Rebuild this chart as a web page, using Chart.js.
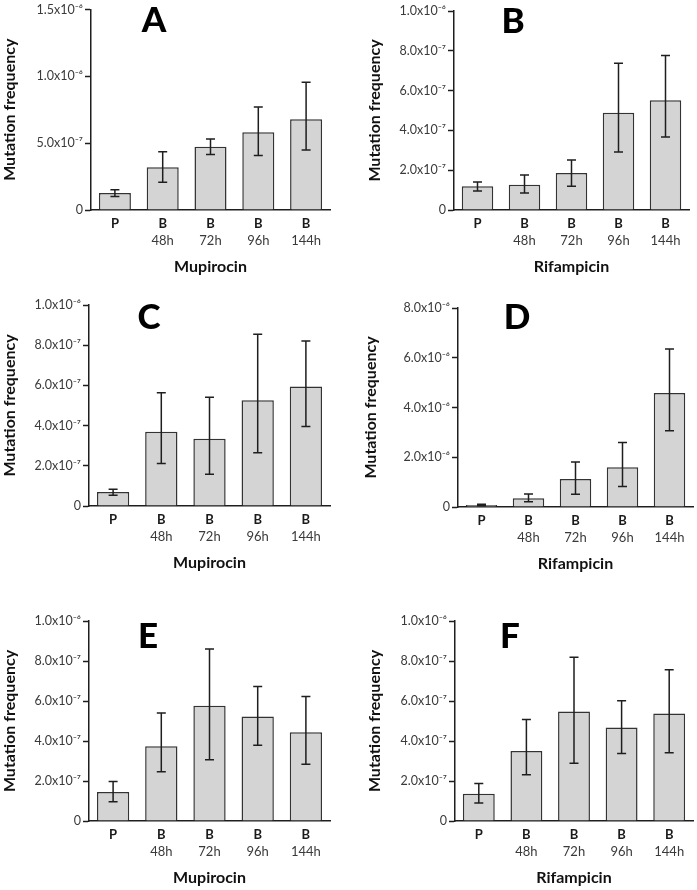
<!DOCTYPE html>
<html>
<head>
<meta charset="utf-8">
<script src="https://cdn.jsdelivr.net/npm/chart.js@4.4.1/dist/chart.umd.min.js"></script>
<style>
  html, body { margin: 0; padding: 0; background: #fff; }
  #wrap { position: relative; width: 697px; height: 890px; overflow: hidden; }
  #wrap canvas { position: absolute; }
</style>
</head>
<body>
<div id="wrap"></div>
<script>
// categories (two label rows under each bar)
const groups = ["P", "B", "B", "B", "B"];
const hours = ["", "48h", "72h", "96h", "144h"];

// y tick values / labels
const ticksA = [0, 5e-7, 1e-6, 1.5e-6];
const tickLabelsA = ["0", "5.0x10⁻⁷", "1.0x10⁻⁶", "1.5x10⁻⁶"];
const ticksE7 = [0, 2e-7, 4e-7, 6e-7, 8e-7, 1e-6];
const tickLabelsE7 = ["0", "2.0x10⁻⁷", "4.0x10⁻⁷", "6.0x10⁻⁷", "8.0x10⁻⁷", "1.0x10⁻⁶"];
const ticksD = [0, 2e-6, 4e-6, 6e-6, 8e-6];
const tickLabelsD = ["0", "2.0x10⁻⁶", "4.0x10⁻⁶", "6.0x10⁻⁶", "8.0x10⁻⁶"];

// A - mupirocin
const mupA    = [1.28e-7, 3.20e-7, 4.73e-7, 5.82e-7, 6.78e-7];
const mupA_lo = [1.01e-7, 2.08e-7, 4.16e-7, 4.08e-7, 4.48e-7];
const mupA_hi = [1.51e-7, 4.36e-7, 5.32e-7, 7.70e-7, 9.55e-7];
// B - rifampicin
const rifB    = [1.19e-7, 1.27e-7, 1.86e-7, 4.89e-7, 5.51e-7];
const rifB_lo = [0.95e-7, 0.85e-7, 1.19e-7, 2.91e-7, 3.67e-7];
const rifB_hi = [1.41e-7, 1.76e-7, 2.51e-7, 7.37e-7, 7.77e-7];
// C - mupirocin
const mupC    = [0.70e-7, 3.70e-7, 3.35e-7, 5.26e-7, 5.95e-7];
const mupC_lo = [0.53e-7, 2.12e-7, 1.58e-7, 2.65e-7, 3.96e-7];
const mupC_hi = [0.83e-7, 5.64e-7, 5.41e-7, 8.54e-7, 8.21e-7];
// D - rifampicin
const rifD    = [0.08e-6, 0.35e-6, 1.13e-6, 1.60e-6, 4.58e-6];
const rifD_lo = [0.05e-6, 0.21e-6, 0.51e-6, 0.82e-6, 3.07e-6];
const rifD_hi = [0.11e-6, 0.52e-6, 1.81e-6, 2.59e-6, 6.35e-6];
// E - mupirocin
const mupE    = [1.45e-7, 3.74e-7, 5.76e-7, 5.23e-7, 4.44e-7];
const mupE_lo = [0.96e-7, 2.46e-7, 3.06e-7, 3.79e-7, 2.84e-7];
const mupE_hi = [1.98e-7, 5.40e-7, 8.60e-7, 6.73e-7, 6.23e-7];
// F - rifampicin
const rifF    = [1.36e-7, 3.50e-7, 5.47e-7, 4.67e-7, 5.38e-7];
const rifF_lo = [0.90e-7, 2.31e-7, 2.89e-7, 3.37e-7, 3.41e-7];
const rifF_hi = [1.88e-7, 5.08e-7, 8.19e-7, 6.01e-7, 7.56e-7];

// panel placement on the page (px)
const panels = [
  { letter: "A", drug: "Mupirocin",  mean: mupA, lo: mupA_lo, hi: mupA_hi, ticks: ticksA,  labels: tickLabelsA,
    left: 0,   top: 0,   width: 345, plotTop: 8,   zero: 210, axisX: 91,  right: 330, titlePad: 0,  letterAt: [154, 21] },
  { letter: "B", drug: "Rifampicin", mean: rifB, lo: rifB_lo, hi: rifB_hi, ticks: ticksE7, labels: tickLabelsE7,
    left: 350, top: 0,   width: 347, plotTop: 11,  zero: 210, axisX: 454, right: 689, titlePad: 15, letterAt: [513, 22] },
  { letter: "C", drug: "Mupirocin",  mean: mupC, lo: mupC_lo, hi: mupC_hi, ticks: ticksE7, labels: tickLabelsE7,
    left: 0,   top: 290, width: 345, plotTop: 305, zero: 506, axisX: 89,  right: 330, titlePad: 0,  letterAt: [149, 318] },
  { letter: "D", drug: "Rifampicin", mean: rifD, lo: rifD_lo, hi: rifD_hi, ticks: ticksD,  labels: tickLabelsD,
    left: 350, top: 290, width: 347, plotTop: 308, zero: 507, axisX: 458, right: 693, titlePad: 11, letterAt: [517, 318] },
  { letter: "E", drug: "Mupirocin",  mean: mupE, lo: mupE_lo, hi: mupE_hi, ticks: ticksE7, labels: tickLabelsE7,
    left: 0,   top: 590, width: 345, plotTop: 621, zero: 821, axisX: 89,  right: 330, titlePad: 0,  letterAt: [148, 637] },
  { letter: "F", drug: "Rifampicin", mean: rifF, lo: rifF_lo, hi: rifF_hi, ticks: ticksE7, labels: tickLabelsE7,
    left: 350, top: 590, width: 347, plotTop: 621, zero: 821, axisX: 455, right: 693, titlePad: 15, letterAt: [510, 637] },
];

Chart.defaults.font.family = "Lato, 'Open Sans', sans-serif";

// whiskers with caps, from the lo/hi arrays
const errorBars = {
  id: "errorBars",
  afterDatasetsDraw(chart, args, opts) {
    const { ctx, scales: { y } } = chart;
    const meta = chart.getDatasetMeta(0);
    ctx.save();
    ctx.strokeStyle = "#1e1e1e";
    ctx.lineWidth = 1.5;
    meta.data.forEach((bar, i) => {
      const yHi = y.getPixelForValue(opts.hi[i]);
      const yLo = y.getPixelForValue(opts.lo[i]);
      const cap = 4.5;
      ctx.beginPath();
      ctx.moveTo(bar.x, yHi); ctx.lineTo(bar.x, yLo);
      ctx.moveTo(bar.x - cap, yHi); ctx.lineTo(bar.x + cap, yHi);
      ctx.moveTo(bar.x - cap, yLo); ctx.lineTo(bar.x + cap, yLo);
      ctx.stroke();
    });
    ctx.restore();
  }
};

// big panel letter
const panelLetter = {
  id: "panelLetter",
  afterDraw(chart, args, opts) {
    const { ctx } = chart;
    ctx.save();
    ctx.font = "900 35px Lato, 'Open Sans', sans-serif";
    ctx.fillStyle = "#000";
    ctx.textAlign = "center";
    ctx.textBaseline = "middle";
    ctx.fillText(opts.text, opts.x, opts.y);
    ctx.restore();
  }
};

const wrap = document.getElementById("wrap");

panels.forEach(p => {
  const padTop = p.plotTop - p.top;
  const height = p.zero + 67 - p.top;
  const canvas = document.createElement("canvas");
  canvas.width = p.width;
  canvas.height = height;
  canvas.style.left = p.left + "px";
  canvas.style.top = p.top + "px";
  wrap.appendChild(canvas);

  new Chart(canvas, {
    type: "bar",
    data: {
      labels: groups,
      datasets: [{
        data: p.mean,
        backgroundColor: "#d4d4d4",
        borderColor: "#333",
        borderWidth: 1.5,
        barPercentage: 0.67,
        categoryPercentage: 1,
      }]
    },
    options: {
      responsive: false,
      animation: false,
      layout: { padding: { top: padTop, right: p.left + p.width - p.right, bottom: 0, left: 0 } },
      plugins: {
        legend: { display: false },
        tooltip: { enabled: false },
        errorBars: { lo: p.lo, hi: p.hi },
        panelLetter: { text: p.letter, x: p.letterAt[0] - p.left, y: p.letterAt[1] - p.top },
      },
      scales: {
        x: {
          weight: 0,
          afterFit: ax => { ax.height = 22; },
          grid: { display: false, drawTicks: false },
          border: { color: "#1e1e1e", width: 1.5 },
          ticks: { color: "#1a1a1a", font: { size: 13, weight: "bold" }, padding: 6, maxRotation: 0, autoSkip: false },
        },
        x2: {
          type: "category",
          labels: hours,
          position: "bottom",
          weight: 1,
          offset: true,
          afterFit: ax => { ax.height = 45; },
          grid: { display: false, drawTicks: false },
          border: { display: false },
          ticks: { color: "#3a3a3a", font: { size: 13 }, padding: 1.5, maxRotation: 0, autoSkip: false },
          title: { display: true, text: p.drug, color: "#111", font: { size: 16, weight: "bold" }, padding: { top: 0, bottom: 1 } },
        },
        y: {
          min: 0,
          max: p.ticks[p.ticks.length - 1],
          afterBuildTicks: ax => { ax.ticks = p.ticks.map(v => ({ value: v })); },
          afterFit: ax => { ax.width = p.axisX - p.left; },
          grid: { drawOnChartArea: false, tickLength: 6, tickColor: "#1e1e1e", tickWidth: 1.5 },
          border: { color: "#1e1e1e", width: 1.5 },
          ticks: { color: "#3a3a3a", font: { size: 12.5 }, padding: 2, callback: (v, i) => p.labels[i] },
          title: { display: true, text: "Mutation frequency", color: "#111", font: { size: 16, weight: "bold" }, padding: { top: p.titlePad, bottom: 0 } },
        }
      }
    },
    plugins: [errorBars, panelLetter]
  });
});
</script>
</body>
</html>
